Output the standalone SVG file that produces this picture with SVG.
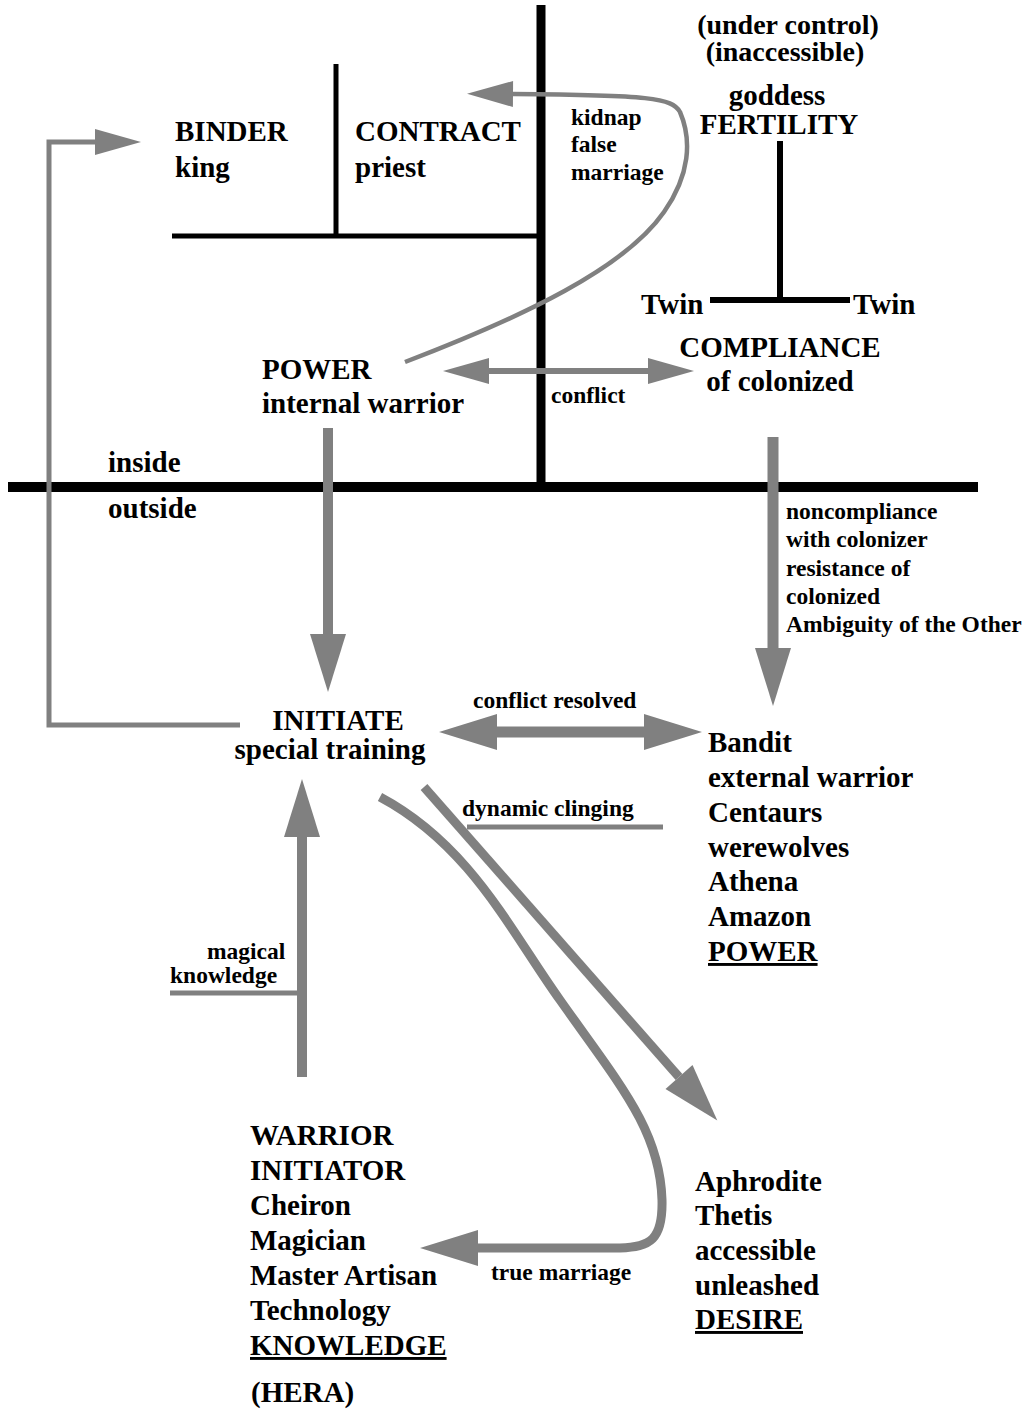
<svg xmlns="http://www.w3.org/2000/svg" width="1031" height="1410" viewBox="0 0 1031 1410">
<style>
text{font-family:"Liberation Serif","Times New Roman",serif;font-weight:bold;fill:#000}
.m{font-size:29px}
.t{font-size:28px}
.s{font-size:23.5px}
.c{text-anchor:middle}
.u{text-decoration:underline}
.bl{stroke:#000;fill:none;stroke-linecap:butt}
.g{stroke:#808080;fill:none;stroke-linecap:butt;stroke-linejoin:miter}
</style>
<defs>
<marker id="ahS" markerUnits="userSpaceOnUse" markerWidth="46" markerHeight="26" viewBox="0 -13 46 26" refX="0" refY="0" orient="auto-start-reverse" overflow="visible"><path d="M0,-13 L46,0 L0,13 Z" fill="#808080"/></marker>
<marker id="ahL" markerUnits="userSpaceOnUse" markerWidth="58" markerHeight="36" viewBox="0 -18 58 36" refX="0" refY="0" orient="auto-start-reverse" overflow="visible"><path d="M0,-18 L58,0 L0,18 Z" fill="#808080"/></marker>
</defs>
<rect width="1031" height="1410" fill="#fff"/>
<g id="frame">
<path class="bl" d="M541,5 L541,487" stroke-width="9"/>
<path class="bl" d="M8,487 L978,487" stroke-width="10"/>
<path class="bl" d="M172,236 L541,236" stroke-width="5"/>
<path class="bl" d="M336,64 L336,236" stroke-width="5"/>
<path class="bl" d="M780,141 L780,300" stroke-width="6"/>
<path class="bl" d="M710,300 L850,300" stroke-width="6"/>
</g>
<g id="connectors">
<path class="g" d="M240,725 L49,725 L49,142 L95,142" stroke-width="5" marker-end="url(#ahS)"/>
<path class="g" d="M405,362 C525,316 625,268 664,212 C690,175 692,140 680,112 C672,98 650,95 513,94" stroke-width="4.5" marker-end="url(#ahS)"/>
<path class="g" d="M489,371 L648,371" stroke-width="6" marker-start="url(#ahS)" marker-end="url(#ahS)"/>
<path class="g" d="M328,428 L328,634" stroke-width="10" marker-end="url(#ahL)"/>
<path class="g" d="M773,437 L773,648" stroke-width="11" marker-end="url(#ahL)"/>
<path class="g" d="M497,732 L644,732" stroke-width="11" marker-start="url(#ahL)" marker-end="url(#ahL)"/>
<path class="g" d="M302,1077 L302,837" stroke-width="10" marker-end="url(#ahL)"/>
<path class="g" d="M424,787 L679,1077" stroke-width="9" marker-end="url(#ahL)"/>
<path class="g" d="M380,797 C470,845 510,930 560,1000 C620,1085 660,1130 662,1200 C663,1240 650,1247 620,1248 L478,1248" stroke-width="9" marker-end="url(#ahL)"/>
<path class="g" d="M170,993 L302,993" stroke-width="5"/>
<path class="g" d="M467,827 L663,827" stroke-width="5"/>
</g>
<g id="binder"><text class="m" x="175" y="141">BINDER</text><text class="m" x="175" y="177">king</text></g>
<g id="contract"><text class="m" x="355" y="141">CONTRACT</text><text class="m" x="355" y="177">priest</text></g>
<g id="kidnap-label"><text class="s" x="571" y="125">kidnap</text><text class="s" x="571" y="152">false</text><text class="s" x="571" y="180">marriage</text></g>
<g id="status"><text class="t c" x="788" y="34">(under control)</text><text class="t c" x="785" y="61">(inaccessible)</text></g>
<g id="fertility"><text class="m c" x="777" y="105">goddess</text><text class="m c" x="779" y="134">FERTILITY</text></g>
<g id="twin-left"><text class="m" x="641" y="314">Twin</text></g>
<g id="twin-right"><text class="m" x="853" y="314">Twin</text></g>
<g id="compliance"><text class="m c" x="780" y="357">COMPLIANCE</text><text class="m c" x="780" y="391">of colonized</text></g>
<g id="power-internal"><text class="m" x="262" y="379">POWER</text><text class="m" x="262" y="413">internal warrior</text></g>
<g id="conflict-label"><text class="s" x="551" y="403">conflict</text></g>
<g id="inside"><text class="m" x="108" y="472">inside</text></g>
<g id="outside"><text class="m" x="108" y="518">outside</text></g>
<g id="noncompliance-label"><text class="s" x="786" y="519">noncompliance</text><text class="s" x="786" y="547">with colonizer</text><text class="s" x="786" y="576">resistance of</text><text class="s" x="786" y="604">colonized</text><text class="s" x="786" y="632">Ambiguity of the Other</text></g>
<g id="conflict-resolved-label"><text class="s" x="473" y="708">conflict resolved</text></g>
<g id="initiate"><text class="m c" x="338" y="730">INITIATE</text><text class="m c" x="330" y="759">special training</text></g>
<g id="bandit"><text class="m" x="708" y="752">Bandit</text><text class="m" x="708" y="787">external warrior</text><text class="m" x="708" y="822">Centaurs</text><text class="m" x="708" y="857">werewolves</text><text class="m" x="708" y="891">Athena</text><text class="m" x="708" y="926">Amazon</text><text class="m u" x="708" y="961">POWER</text></g>
<g id="dynamic-label"><text class="s" x="462" y="816">dynamic clinging</text></g>
<g id="magical-label"><text class="s" x="207" y="959">magical</text><text class="s" x="170" y="983">knowledge</text></g>
<g id="warrior"><text class="m" x="250" y="1145">WARRIOR</text><text class="m" x="250" y="1180">INITIATOR</text><text class="m" x="250" y="1215">Cheiron</text><text class="m" x="250" y="1250">Magician</text><text class="m" x="250" y="1285">Master Artisan</text><text class="m" x="250" y="1320">Technology</text><text class="m u" x="250" y="1355">KNOWLEDGE</text></g>
<g id="hera"><text class="m" x="251" y="1402">(HERA)</text></g>
<g id="aphrodite"><text class="m" x="695" y="1191">Aphrodite</text><text class="m" x="695" y="1225">Thetis</text><text class="m" x="695" y="1260">accessible</text><text class="m" x="695" y="1295">unleashed</text><text class="m u" x="695" y="1329">DESIRE</text></g>
<g id="true-marriage-label"><text class="s" x="491" y="1280">true marriage</text></g>
</svg>
